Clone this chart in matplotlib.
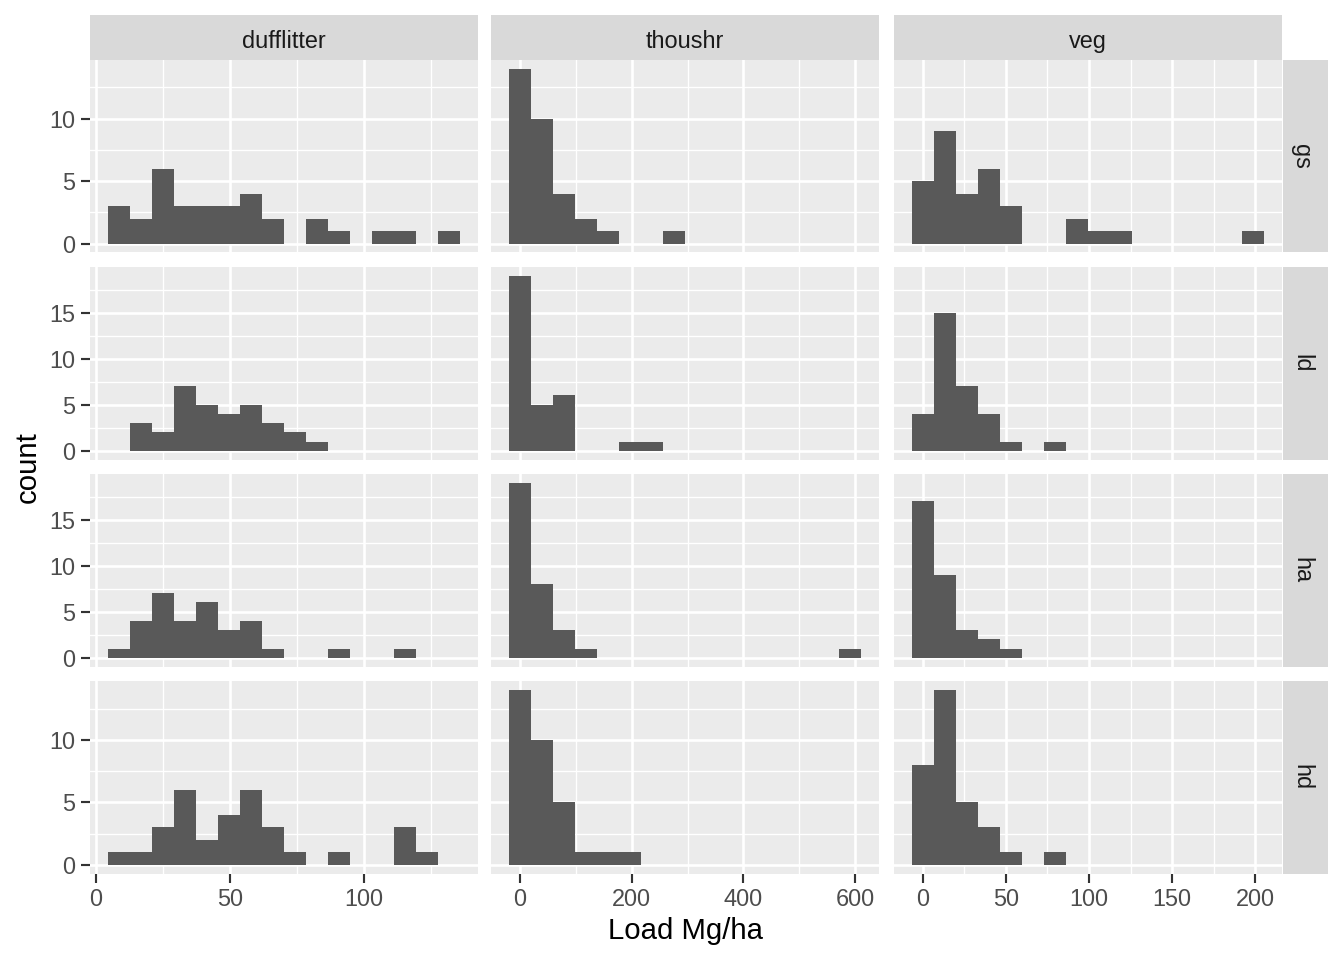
import numpy as np
import matplotlib
matplotlib.use("Agg")
from matplotlib import pyplot as plt

plt.rcParams['font.family'] = ['Liberation Sans', 'DejaVu Sans']

#facet labels
fuel_types = ["dufflitter", "thoushr", "veg"]
sites = ["gs", "ld", "ha", "hd"]

#bin layout per fuel type (left edge of first bin, bin width), 16 bins each
bin_start = {"dufflitter": 4.4, "thoushr": -19.7, "veg": -6.625}
bin_width = {"dufflitter": 8.22, "thoushr": 39.4, "veg": 13.25}

#counts per bin
gs_dufflitter = [3, 2, 6, 3, 3, 3, 4, 2, 0, 2, 1, 0, 1, 1, 0, 1]
gs_thoushr = [14, 10, 4, 2, 1, 0, 0, 1, 0, 0, 0, 0, 0, 0, 0, 0]
gs_veg = [5, 9, 4, 6, 3, 0, 0, 2, 1, 1, 0, 0, 0, 0, 0, 1]
ld_dufflitter = [0, 3, 2, 7, 5, 4, 5, 3, 2, 1, 0, 0, 0, 0, 0, 0]
ld_thoushr = [19, 5, 6, 0, 0, 1, 1, 0, 0, 0, 0, 0, 0, 0, 0, 0]
ld_veg = [4, 15, 7, 4, 1, 0, 1, 0, 0, 0, 0, 0, 0, 0, 0, 0]
ha_dufflitter = [1, 4, 7, 4, 6, 3, 4, 1, 0, 0, 1, 0, 0, 1, 0, 0]
ha_thoushr = [19, 8, 3, 1, 0, 0, 0, 0, 0, 0, 0, 0, 0, 0, 0, 1]
ha_veg = [17, 9, 3, 2, 1, 0, 0, 0, 0, 0, 0, 0, 0, 0, 0, 0]
hd_dufflitter = [1, 1, 3, 6, 2, 4, 6, 3, 1, 0, 1, 0, 0, 3, 1, 0]
hd_thoushr = [14, 10, 5, 1, 1, 1, 0, 0, 0, 0, 0, 0, 0, 0, 0, 0]
hd_veg = [8, 14, 5, 3, 1, 0, 1, 0, 0, 0, 0, 0, 0, 0, 0, 0]

counts = {
    "gs": [gs_dufflitter, gs_thoushr, gs_veg],
    "ld": [ld_dufflitter, ld_thoushr, ld_veg],
    "ha": [ha_dufflitter, ha_thoushr, ha_veg],
    "hd": [hd_dufflitter, hd_thoushr, hd_veg],
}

#axis breaks
x_major = {"dufflitter": [0, 50, 100], "thoushr": [0, 200, 400, 600],
           "veg": [0, 50, 100, 150, 200]}
x_minor = {"dufflitter": [25, 75, 125], "thoushr": [100, 300, 500],
           "veg": [25, 75, 125, 175]}
y_major = {"gs": [0, 5, 10], "ld": [0, 5, 10, 15], "ha": [0, 5, 10, 15], "hd": [0, 5, 10]}
y_minor = {"gs": [2.5, 7.5, 12.5], "ld": [2.5, 7.5, 12.5, 17.5],
           "ha": [2.5, 7.5, 12.5, 17.5], "hd": [2.5, 7.5, 12.5]}

W, H = 1344.0, 960.0
fig = plt.figure(figsize=(7, 5), dpi=192)

col_left = [90, 491, 894]
col_w = 388
row_top = [60, 267, 474, 681]
row_h = 192.5

def px_axes(x, y, w, h):
    return fig.add_axes([x / W, 1 - (y + h) / H, w / W, h / H])

#row y-limits: free per row, shared across columns
row_max = {s: max(max(c) for c in counts[s]) for s in sites}

for i, s in enumerate(sites):
    for j, f in enumerate(fuel_types):
        ax = px_axes(col_left[j], row_top[i], col_w, row_h)
        ax.set_facecolor('#EBEBEB')
        for sp in ax.spines.values():
            sp.set_visible(False)
        edges = bin_start[f] + bin_width[f] * np.arange(16)
        c = counts[s][j]
        ax.set_axisbelow(True)
        ax.bar(edges, c, width=bin_width[f], align='edge', color='#595959', linewidth=0)
        lo = bin_start[f]
        hi = bin_start[f] + 16 * bin_width[f]
        pad = 0.05 * (hi - lo)
        ax.set_xlim(lo - pad, hi + pad)
        ym = row_max[s]
        ax.set_ylim(-0.05 * ym, 1.05 * ym)
        ax.set_xticks(x_major[f])
        ax.set_xticks(x_minor[f], minor=True)
        ax.set_yticks(y_major[s])
        ax.set_yticks(y_minor[s], minor=True)
        ax.grid(True, which='major', color='white', linewidth=1.0)
        ax.grid(True, which='minor', color='white', linewidth=0.5)
        ax.tick_params(which='minor', length=0)
        ax.tick_params(which='major', length=3.5, width=0.8, color='#333333',
                       labelcolor='#4D4D4D', labelsize=8.8, pad=2)
        if i != len(sites) - 1:
            ax.tick_params(axis='x', which='major', length=0, labelbottom=False)
        if j != 0:
            ax.tick_params(axis='y', which='major', length=0, labelleft=False)

#top strips
for j, f in enumerate(fuel_types):
    sax = px_axes(col_left[j], 15, col_w, 44.5)
    sax.set_facecolor('#D9D9D9')
    sax.set_xticks([]); sax.set_yticks([])
    for sp in sax.spines.values():
        sp.set_visible(False)
    sax.text(0.5, 0.45, f, ha='center', va='center_baseline', fontsize=8.8, color='#1A1A1A',
             transform=sax.transAxes)

#right strips
for i, s in enumerate(sites):
    sax = px_axes(1282.5, row_top[i], 45.5, row_h)
    sax.set_facecolor('#D9D9D9')
    sax.set_xticks([]); sax.set_yticks([])
    for sp in sax.spines.values():
        sp.set_visible(False)
    sax.text(0.42, 0.5, s, ha='center', va='center', fontsize=8.8, color='#1A1A1A',
             rotation=-90, transform=sax.transAxes)

fig.text(685 / W, 1 - 931 / H, "Load Mg/ha", ha='center', va='center', fontsize=11)
fig.text(28 / W, 1 - 467 / H, "count", ha='center', va='center', fontsize=11, rotation=90)

fig.savefig("out.png", dpi=192, facecolor='white')
